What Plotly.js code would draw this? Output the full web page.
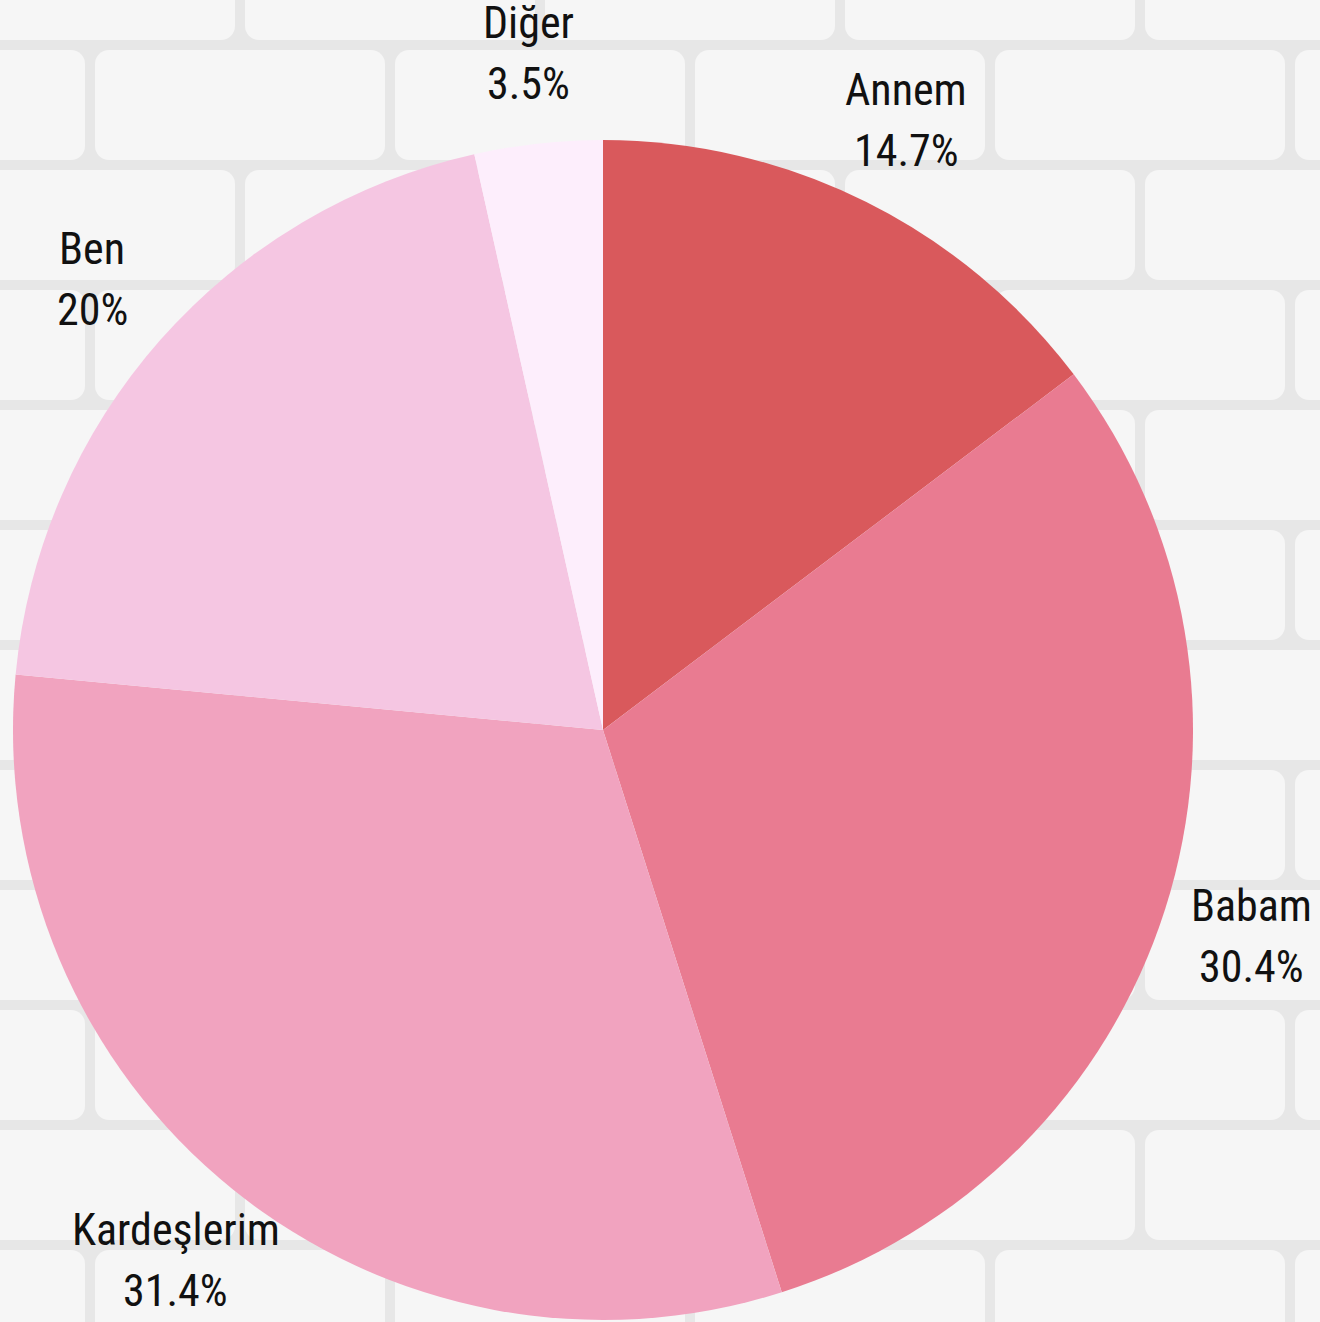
<!DOCTYPE html>
<html>
<head>
<meta charset="utf-8">
<script src="https://cdn.plot.ly/plotly-3.0.1.min.js"></script>
<style>
  html, body { margin: 0; padding: 0; width: 1320px; height: 1322px; overflow: hidden; background-color: #ececec; }
  #chart { width: 1320px; height: 1322px; }
</style>
</head>
<body>
<div id="chart"></div>
<script>
// ---- data ----
const categories = ["Annem", "Babam", "Kardeşlerim", "Ben", "Diğer"];
const shares = [14.7, 30.4, 31.4, 20, 3.5];
const sliceColors = ["#d9595c", "#e97b91", "#f1a3bf", "#f5c6e2", "#fdeefc"];

// ---- brick wall backdrop (decorative, CSS only) ----
const brickSvg =
  '<svg xmlns="http://www.w3.org/2000/svg" width="600" height="240">' +
  '<rect width="600" height="240" fill="#e7e7e7"/>' +
  '<g fill="#f6f6f6">' +
  '<rect x="5" y="5" width="290" height="110" rx="14"/>' +
  '<rect x="305" y="5" width="290" height="110" rx="14"/>' +
  '<rect x="-145" y="125" width="290" height="110" rx="14"/>' +
  '<rect x="155" y="125" width="290" height="110" rx="14"/>' +
  '<rect x="455" y="125" width="290" height="110" rx="14"/>' +
  '</g></svg>';
document.body.style.backgroundImage = 'url("data:image/svg+xml,' + encodeURIComponent(brickSvg) + '")';
document.body.style.backgroundPosition = '-60px -75px';

// ---- geometry of the page ----
const W = 1320, H = 1322;
const pieLeft = 13, pieRight = 1193, pieTop = 140, pieBottom = 1320;
const cx = (pieLeft + pieRight) / 2, cy = (pieTop + pieBottom) / 2;
const labelRadius = 681;
const lineGap = 61;
const fontFamily = '"Roboto Condensed", "Liberation Sans Narrow", "Arial Narrow", "DejaVu Sans Condensed", sans-serif';
const labelFont = { family: fontFamily, size: 44, color: '#111111' };

const total = shares.reduce((a, b) => a + b, 0);
let cum = 0;
const annotations = [];
categories.forEach((c, i) => {
  const mid = (cum + shares[i] / 2) / total * 2 * Math.PI;
  cum += shares[i];
  const px = cx + labelRadius * Math.sin(mid);
  const py = cy - labelRadius * Math.cos(mid);
  [c, shares[i] + '%'].forEach((t, k) => {
    annotations.push({
      xref: 'paper', yref: 'paper',
      x: px / W, y: 1 - (py + (k - 0.5) * lineGap) / H,
      xanchor: 'center', yanchor: 'middle',
      text: t, showarrow: false, align: 'center',
      font: labelFont
    });
  });
});

const trace = {
  type: 'pie',
  labels: categories,
  values: shares,
  sort: false,
  direction: 'clockwise',
  rotation: 0,
  marker: { colors: sliceColors, line: { width: 0 } },
  textinfo: 'none',
  hoverinfo: 'label+percent',
  showlegend: false,
  domain: {
    x: [pieLeft / W, pieRight / W],
    y: [(H - pieBottom) / H, (H - pieTop) / H]
  }
};

const layout = {
  width: W, height: H,
  margin: { l: 0, r: 0, t: 0, b: 0 },
  paper_bgcolor: 'rgba(0,0,0,0)',
  plot_bgcolor: 'rgba(0,0,0,0)',
  showlegend: false,
  annotations: annotations
};

Plotly.newPlot('chart', [trace], layout, { displayModeBar: false, staticPlot: true });
</script>
</body>
</html>
